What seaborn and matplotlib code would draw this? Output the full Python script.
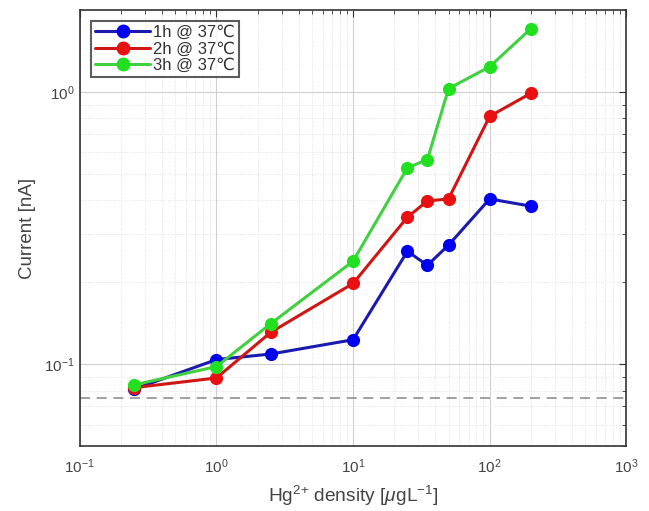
import numpy as np
import pandas as pd
import matplotlib
matplotlib.use("Agg")
import matplotlib.pyplot as plt
import seaborn as sns
from matplotlib.ticker import NullFormatter, LogLocator

# Hg2+ density [ug/L] and measured currents [nA]
density = [0.25, 1, 2.5, 10, 25, 35, 50, 100, 200]
current_1h = [0.081, 0.104, 0.109, 0.123, 0.260, 0.231, 0.274, 0.405, 0.381]
current_2h = [0.082, 0.089, 0.131, 0.198, 0.347, 0.398, 0.405, 0.815, 0.99]
current_3h = [0.084, 0.098, 0.141, 0.239, 0.527, 0.565, 1.03, 1.24, 1.71]
series_names = ["1h @ 37\u2103", "2h @ 37\u2103", "3h @ 37\u2103"]
baseline = 0.075

df = pd.concat([
    pd.DataFrame({"density": density, "current": vals, "series": name})
    for name, vals in zip(series_names, [current_1h, current_2h, current_3h])
])

sns.set_style("white")
plt.rcParams["font.family"] = ["Liberation Sans", "DejaVu Sans"]
plt.rcParams["mathtext.fontset"] = "custom"
plt.rcParams["mathtext.rm"] = "Liberation Sans"
plt.rcParams["mathtext.it"] = "Liberation Sans:italic"

fig = plt.figure(figsize=(6.49, 5.11), dpi=100)
ax = fig.add_axes([0.123, 0.127, 0.842, 0.853])

palette = {series_names[0]: "#0000f0",
           series_names[1]: "#e81010",
           series_names[2]: "#20e020"}
line_cols = ["#1a1ab0", "#d01515", "#40d040"]

sns.lineplot(data=df, x="density", y="current", hue="series",
             palette=palette, marker="o", markersize=9.5, linewidth=2.2,
             markeredgewidth=0, ax=ax, zorder=3)
for line, lc, name in zip(ax.get_lines()[:3], line_cols, series_names):
    line.set_color(lc)
    line.set_markerfacecolor(palette[name])

ax.axhline(baseline, color="#909090", lw=1.2, ls=(0, (6, 4)), zorder=2)

ax.set_xscale("log")
ax.set_yscale("log")
ax.set_xlim(0.1, 1000)
ax.set_ylim(0.05, 2.0)
ax.xaxis.set_major_locator(LogLocator(base=10, numticks=10))
ax.yaxis.set_minor_formatter(NullFormatter())
ax.xaxis.set_minor_formatter(NullFormatter())

ax.grid(True, which="major", color="#cfcfcf", lw=0.8, ls="-")
ax.grid(True, which="minor", color="#e0e0e0", lw=0.7, ls=":")
ax.tick_params(which="both", direction="in", top=True, right=True,
               labelsize=11, colors="#333333", labelcolor="#444444")
ax.tick_params(which="major", length=5)
ax.tick_params(which="minor", length=3)
ax.tick_params(axis="x", which="major", pad=8)
for s in ax.spines.values():
    s.set_color("#333333")
    s.set_linewidth(1.2)

ax.set_xlabel(r"Hg$^{2{+}}$ density [$\mu$gL$^{-1}$]", fontsize=13.8,
              color="#444444", labelpad=6)
ax.set_ylabel("Current [nA]", fontsize=13.5, color="#444444", labelpad=6)

handles, labels = ax.get_legend_handles_labels()
leg = ax.legend(handles[:3], labels[:3], loc="upper left", fontsize=12,
                frameon=True, fancybox=False, borderpad=0.25,
                handlelength=3.3, handletextpad=0.2, labelspacing=0.1,
                bbox_to_anchor=(0.005, 0.995))
leg.get_frame().set_edgecolor("#333333")
leg.get_frame().set_linewidth(1.5)
for h, lc, name in zip(leg.legend_handles, line_cols, series_names):
    h.set_color(lc)
    h.set_markerfacecolor(palette[name])
    h.set_markersize(10)
for t in leg.get_texts():
    t.set_color("#333333")

fig.savefig("out.png", dpi=100)
